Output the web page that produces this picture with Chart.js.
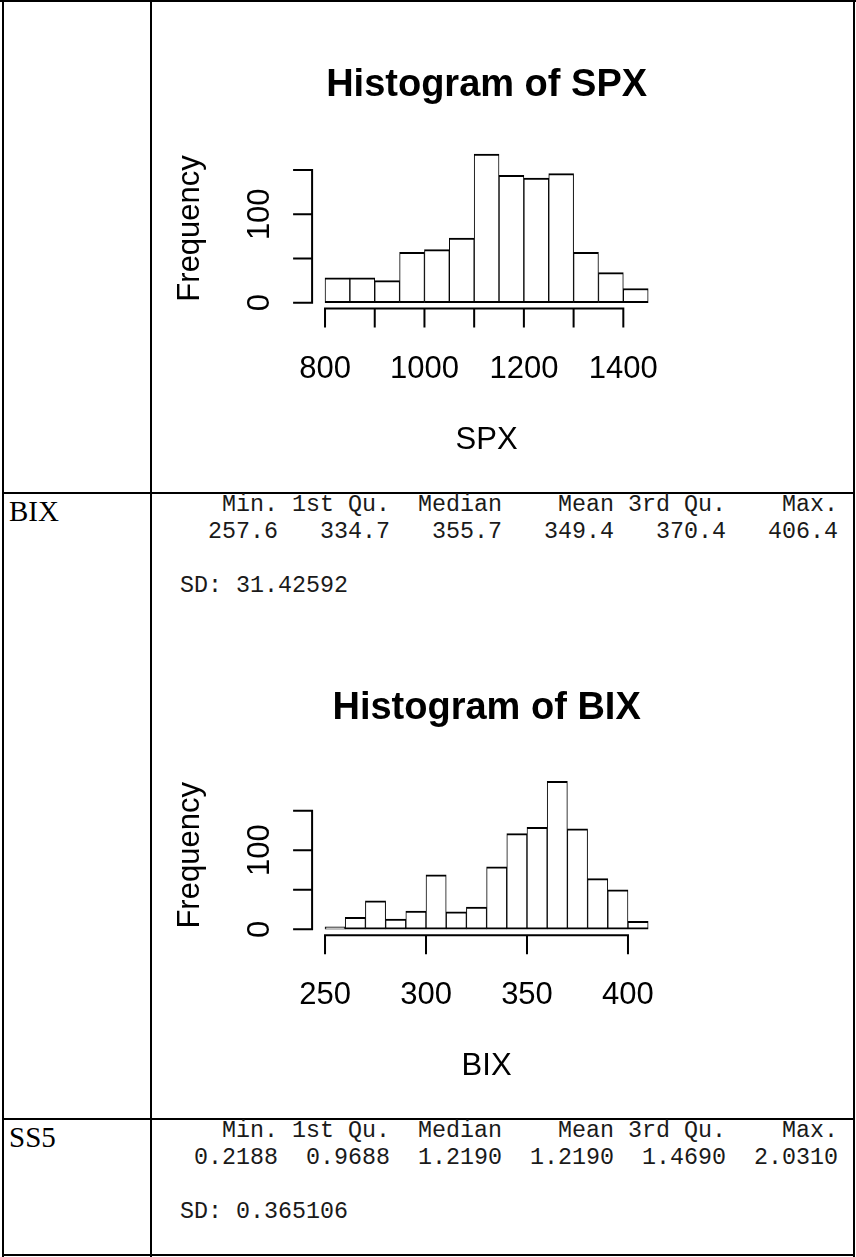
<!DOCTYPE html>
<html>
<head>
<meta charset="utf-8">
<script src="https://cdn.jsdelivr.net/npm/chart.js@4.4.0/dist/chart.umd.min.js"></script>
<style>
  html, body { margin: 0; padding: 0; background: #fff; }
  body { width: 856px; height: 1257px; position: relative; overflow: hidden; }
  .rule { position: absolute; background: #000; }
  .mono { position: absolute; left: 180px; font-family: "Liberation Mono", "Courier New", monospace; font-size: 23.33px; line-height: 27px; white-space: pre; color: #1a1a1a; }
  .rowlab { position: absolute; left: 9px; font-family: "Liberation Serif", "Times New Roman", serif; font-size: 29px; line-height: 30px; color: #000; }
  canvas { position: absolute; }
</style>
</head>
<body>

<!-- table rules -->
<div class="rule" style="left:0;top:0;width:856px;height:2px"></div>
<div class="rule" style="left:2px;top:0;width:2px;height:1257px"></div>
<div class="rule" style="left:150px;top:0;width:2px;height:1257px"></div>
<div class="rule" style="left:853px;top:0;width:2px;height:1257px"></div>
<div class="rule" style="left:2px;top:492px;width:853px;height:2px"></div>
<div class="rule" style="left:2px;top:1118px;width:853px;height:2px"></div>
<div class="rule" style="left:2px;top:1254px;width:853px;height:2px"></div>

<div class="rowlab" style="top:496px">BIX</div>
<div class="mono" id="bixSummary" style="top:492px"></div>

<div class="rowlab" style="top:1122px">SS5</div>
<div class="mono" id="ss5Summary" style="top:1118px"></div>

<canvas id="spxHist" width="700" height="488" style="left:153px;top:3px"></canvas>
<canvas id="bixHist" width="700" height="516" style="left:153px;top:600px"></canvas>

<script>
// SPX histogram (bin edges + counts)
const spxEdges = [800, 850, 900, 950, 1000, 1050, 1100, 1150, 1200, 1250, 1300, 1350, 1400, 1450];
const spxCounts = [28, 28, 25, 57, 60, 73, 168, 144, 141, 146, 57, 34, 16];
const spxXTicks = [800, 900, 1000, 1100, 1200, 1300, 1400];
const spxXLabels = [800, 1000, 1200, 1400];

// BIX histogram
const bixEdges = [250, 260, 270, 280, 290, 300, 310, 320, 330, 340, 350, 360, 370, 380, 390, 400, 410];
const bixCounts = [3, 15, 36, 13, 23, 69, 22, 28, 79, 121, 129, 187, 127, 64, 50, 10];
const bixXTicks = [250, 300, 350, 400];
const bixXLabels = [250, 300, 350, 400];

// shared y axis ticks
const yTicks = [0, 50, 100, 150];
const yLabels = [0, 100];

// summary() output
const summaryNames = ['Min.', '1st Qu.', 'Median', 'Mean', '3rd Qu.', 'Max.'];
const bixSummary = ['257.6', '334.7', '355.7', '349.4', '370.4', '406.4'];
const bixSD = '31.42592';
const ss5Summary = ['0.2188', '0.9688', '1.2190', '1.2190', '1.4690', '2.0310'];
const ss5SD = '0.365106';

function summaryText(vals, sd) {
  const head = summaryNames.map(n => n.padStart(7)).join(' ') + ' ';
  const row = vals.map(v => v.padStart(7)).join(' ') + ' ';
  return head + '\n' + row + '\n\nSD: ' + sd;
}
document.getElementById('bixSummary').textContent = summaryText(bixSummary, bixSD);
document.getElementById('ss5Summary').textContent = summaryText(ss5Summary, ss5SD);

const FONT = '"Liberation Sans", Arial, sans-serif';

// draws R style axes / titles from the chart's scales
const rAxes = {
  id: 'rAxes',
  afterDraw(chart, args, o) {
    const { ctx, chartArea: a, scales: { x, y } } = chart;
    ctx.save();
    ctx.strokeStyle = '#000';
    ctx.fillStyle = '#000';
    ctx.lineWidth = 2;
    ctx.lineCap = 'square';

    ctx.beginPath();
    // x axis
    ctx.moveTo(x.getPixelForValue(o.xTicks[0]), a.bottom);
    ctx.lineTo(x.getPixelForValue(o.xTicks[o.xTicks.length - 1]), a.bottom);
    o.xTicks.forEach(v => {
      const px = x.getPixelForValue(v);
      ctx.moveTo(px, a.bottom);
      ctx.lineTo(px, a.bottom + 18);
    });
    // y axis
    ctx.moveTo(a.left, y.getPixelForValue(yTicks[0]));
    ctx.lineTo(a.left, y.getPixelForValue(yTicks[yTicks.length - 1]));
    yTicks.forEach(v => {
      const py = y.getPixelForValue(v);
      ctx.moveTo(a.left, py);
      ctx.lineTo(a.left - 18, py);
    });
    ctx.stroke();

    ctx.textAlign = 'center';
    ctx.textBaseline = 'alphabetic';
    ctx.font = '31px ' + FONT;
    o.xLabels.forEach(v => ctx.fillText(String(v), x.getPixelForValue(v), a.bottom + 69));
    ctx.fillText(o.xTitle, (a.left + a.right) / 2, a.bottom + 140);

    yLabels.forEach(v => {
      ctx.save();
      ctx.translate(a.left - 54, y.getPixelForValue(v));
      ctx.rotate(-Math.PI / 2);
      ctx.fillText(String(v), 0, 11);
      ctx.restore();
    });
    ctx.save();
    ctx.translate(a.left - 124, (a.top + a.bottom) / 2);
    ctx.rotate(-Math.PI / 2);
    ctx.fillText('Frequency', 0, 11);
    ctx.restore();

    ctx.font = 'bold 38px ' + FONT;
    ctx.fillText(o.title, (a.left + a.right) / 2, a.top - o.titleGap + 14);
    ctx.restore();
  }
};

function histogram(id, edges, counts, xr, yr, pad, axes) {
  const pts = counts.map((c, i) => ({ x: (edges[i] + edges[i + 1]) / 2, y: c }));
  return new Chart(document.getElementById(id), {
    type: 'bar',
    data: {
      datasets: [{
        data: pts,
        backgroundColor: '#fff',
        borderColor: '#000',
        borderWidth: { top: 2, bottom: 2, left: 1, right: 1 },
        borderSkipped: false,
        barPercentage: 1,
        categoryPercentage: 1
      }]
    },
    options: {
      responsive: false,
      animation: false,
      events: [],
      layout: { padding: pad },
      plugins: { legend: { display: false }, tooltip: { enabled: false }, rAxes: axes },
      scales: {
        x: { type: 'linear', min: xr[0], max: xr[1], offset: false, display: false },
        y: { type: 'linear', min: yr[0], max: yr[1], display: false }
      }
    },
    plugins: [rAxes]
  });
}

// R usr ranges: data range extended by 4%
histogram('spxHist', spxEdges, spxCounts, [774, 1476], [-6.72, 174.72],
  { left: 159.1, right: 191.9, top: 145.2, bottom: 182.4 },
  { xTicks: spxXTicks, xLabels: spxXLabels, xTitle: 'SPX', title: 'Histogram of SPX', titleGap: 66.5 });

histogram('bixHist', bixEdges, bixCounts, [243.6, 416.4], [-7.48, 194.48],
  { left: 159.1, right: 191.9, top: 175.5, bottom: 180.8 },
  { xTicks: bixXTicks, xLabels: bixXLabels, xTitle: 'BIX', title: 'Histogram of BIX', titleGap: 70.5 });
</script>
</body>
</html>
